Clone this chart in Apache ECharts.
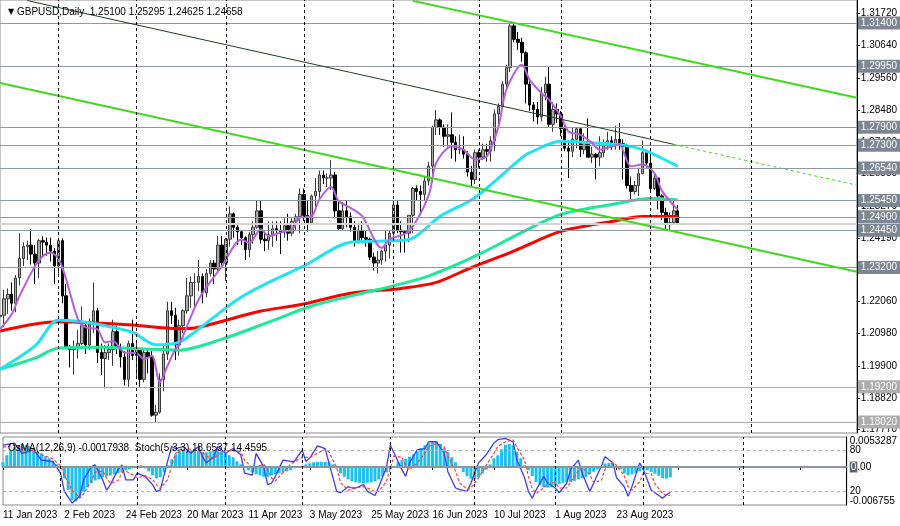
<!DOCTYPE html>
<html><head><meta charset="utf-8">
<script src="https://cdn.jsdelivr.net/npm/echarts/dist/echarts.min.js"></script>
<style>html,body{margin:0;padding:0;background:#fff}#c{width:900px;height:526px}</style>
</head><body><div id="c"></div>
<script>
// date, open, high, low, close
const candles = [
['2023-01-11',1.2155,1.2195,1.2125,1.2160],['2023-01-12',1.2160,1.2245,1.2120,1.2215],['2023-01-13',1.2215,1.2250,1.2165,1.2230],
['2023-01-16',1.2230,1.2270,1.2175,1.2200],['2023-01-17',1.2200,1.2295,1.2170,1.2285],['2023-01-18',1.2285,1.2435,1.2260,1.2350],
['2023-01-19',1.2350,1.2405,1.2325,1.2390],['2023-01-20',1.2390,1.2410,1.2345,1.2395],['2023-01-23',1.2395,1.2448,1.2330,1.2365],
['2023-01-24',1.2365,1.2395,1.2265,1.2335],['2023-01-25',1.2335,1.2415,1.2285,1.2410],['2023-01-26',1.2410,1.2425,1.2355,1.2405],
['2023-01-27',1.2405,1.2420,1.2360,1.2395],['2023-01-30',1.2395,1.2420,1.2340,1.2375],['2023-01-31',1.2375,1.2385,1.2265,1.2325],
['2023-02-01',1.2325,1.2420,1.2290,1.2410],['2023-02-02',1.2410,1.2418,1.2200,1.2225],['2023-02-03',1.2225,1.2265,1.2050,1.2050],
['2023-02-06',1.2050,1.2060,1.1985,1.2045],['2023-02-07',1.2045,1.2075,1.1961,1.2050],['2023-02-08',1.2050,1.2110,1.2015,1.2065],
['2023-02-09',1.2065,1.2190,1.2060,1.2125],['2023-02-10',1.2125,1.2135,1.2030,1.2060],['2023-02-13',1.2060,1.2150,1.2045,1.2140],
['2023-02-14',1.2140,1.2270,1.2100,1.2175],['2023-02-15',1.2175,1.2185,1.2000,1.2035],['2023-02-16',1.2035,1.2065,1.1960,1.2015],
['2023-02-17',1.2015,1.2060,1.1915,1.2035],['2023-02-20',1.2035,1.2065,1.2010,1.2045],['2023-02-21',1.2045,1.2145,1.1990,1.2105],
['2023-02-22',1.2105,1.2125,1.2030,1.2050],['2023-02-23',1.2050,1.2065,1.1985,1.2020],['2023-02-24',1.2020,1.2040,1.1925,1.1945],
['2023-02-27',1.1945,1.2075,1.1920,1.2065],['2023-02-28',1.2065,1.2145,1.2010,1.2025],['2023-03-01',1.2025,1.2075,1.1945,1.2045],
['2023-03-02',1.2045,1.2050,1.1920,1.1945],['2023-03-03',1.1945,1.2045,1.1935,1.2035],['2023-03-06',1.2035,1.2050,1.1965,1.2020],
['2023-03-07',1.2020,1.2040,1.1820,1.1825],['2023-03-08',1.1825,1.1860,1.1802,1.1835],['2023-03-09',1.1835,1.1965,1.1830,1.1945],
['2023-03-10',1.1945,1.2060,1.1905,1.2030],['2023-03-13',1.2030,1.2205,1.2010,1.2175],['2023-03-14',1.2175,1.2205,1.2130,1.2160],
['2023-03-15',1.2160,1.2185,1.2010,1.2060],['2023-03-16',1.2060,1.2145,1.2025,1.2125],['2023-03-17',1.2125,1.2180,1.2100,1.2175],
['2023-03-20',1.2175,1.2285,1.2165,1.2225],['2023-03-21',1.2225,1.2290,1.2185,1.2270],['2023-03-22',1.2270,1.2300,1.2190,1.2270],
['2023-03-23',1.2270,1.2345,1.2240,1.2290],['2023-03-24',1.2290,1.2300,1.2200,1.2235],['2023-03-27',1.2235,1.2315,1.2220,1.2300],
['2023-03-28',1.2300,1.2345,1.2290,1.2335],['2023-03-29',1.2335,1.2345,1.2265,1.2315],['2023-03-30',1.2315,1.2425,1.2300,1.2395],
['2023-03-31',1.2395,1.2425,1.2325,1.2335],['2023-04-03',1.2335,1.2420,1.2275,1.2415],['2023-04-04',1.2415,1.2525,1.2390,1.2500],
['2023-04-05',1.2500,1.2505,1.2420,1.2455],['2023-04-06',1.2455,1.2470,1.2395,1.2440],['2023-04-07',1.2440,1.2445,1.2395,1.2420],
['2023-04-10',1.2420,1.2425,1.2345,1.2380],['2023-04-11',1.2380,1.2440,1.2355,1.2430],['2023-04-12',1.2430,1.2475,1.2400,1.2455],
['2023-04-13',1.2455,1.2545,1.2450,1.2510],['2023-04-14',1.2510,1.2545,1.2400,1.2415],['2023-04-17',1.2415,1.2440,1.2375,1.2410],
['2023-04-18',1.2410,1.2475,1.2380,1.2430],['2023-04-19',1.2430,1.2475,1.2390,1.2450],['2023-04-20',1.2450,1.2475,1.2410,1.2445],
['2023-04-21',1.2445,1.2475,1.2365,1.2440],['2023-04-24',1.2440,1.2485,1.2420,1.2460],['2023-04-25',1.2460,1.2500,1.2410,1.2435],
['2023-04-26',1.2435,1.2485,1.2425,1.2475],['2023-04-27',1.2475,1.2500,1.2445,1.2490],['2023-04-28',1.2490,1.2585,1.2435,1.2565],
['2023-05-01',1.2565,1.2585,1.2475,1.2495],['2023-05-02',1.2495,1.2545,1.2440,1.2470],['2023-05-03',1.2470,1.2565,1.2465,1.2560],
['2023-05-04',1.2560,1.2620,1.2515,1.2575],['2023-05-05',1.2575,1.2645,1.2545,1.2630],['2023-05-08',1.2630,1.2645,1.2600,1.2620],
['2023-05-09',1.2620,1.2635,1.2590,1.2620],['2023-05-10',1.2620,1.2680,1.2580,1.2630],['2023-05-11',1.2630,1.2640,1.2485,1.2510],
['2023-05-12',1.2510,1.2545,1.2445,1.2450],['2023-05-15',1.2450,1.2540,1.2445,1.2510],['2023-05-16',1.2510,1.2545,1.2455,1.2490],
['2023-05-17',1.2490,1.2505,1.2440,1.2455],['2023-05-18',1.2455,1.2475,1.2390,1.2410],['2023-05-19',1.2410,1.2470,1.2400,1.2445],
['2023-05-22',1.2445,1.2475,1.2405,1.2420],['2023-05-23',1.2420,1.2445,1.2390,1.2415],['2023-05-24',1.2415,1.2420,1.2345,1.2355],
['2023-05-25',1.2355,1.2370,1.2310,1.2335],['2023-05-26',1.2335,1.2375,1.2300,1.2345],['2023-05-29',1.2345,1.2380,1.2330,1.2375],
['2023-05-30',1.2375,1.2445,1.2340,1.2395],['2023-05-31',1.2395,1.2445,1.2350,1.2435],['2023-06-01',1.2435,1.2545,1.2410,1.2530],
['2023-06-02',1.2530,1.2545,1.2435,1.2445],['2023-06-05',1.2445,1.2475,1.2370,1.2440],['2023-06-06',1.2440,1.2445,1.2370,1.2435],
['2023-06-07',1.2435,1.2495,1.2405,1.2495],['2023-06-08',1.2495,1.2590,1.2435,1.2585],['2023-06-09',1.2585,1.2595,1.2545,1.2575],
['2023-06-12',1.2575,1.2595,1.2495,1.2565],['2023-06-13',1.2565,1.2625,1.2545,1.2610],['2023-06-14',1.2610,1.2675,1.2595,1.2660],
['2023-06-15',1.2660,1.2795,1.2605,1.2790],['2023-06-16',1.2790,1.2848,1.2765,1.2815],['2023-06-19',1.2815,1.2820,1.2765,1.2790],
['2023-06-20',1.2790,1.2800,1.2725,1.2760],['2023-06-21',1.2760,1.2800,1.2725,1.2765],['2023-06-22',1.2765,1.2840,1.2685,1.2740],
['2023-06-23',1.2740,1.2760,1.2675,1.2715],['2023-06-26',1.2715,1.2765,1.2700,1.2715],['2023-06-27',1.2715,1.2760,1.2685,1.2700],
['2023-06-28',1.2700,1.2710,1.2625,1.2640],['2023-06-29',1.2640,1.2660,1.2590,1.2615],['2023-06-30',1.2615,1.2715,1.2600,1.2705],
['2023-07-03',1.2705,1.2715,1.2655,1.2690],['2023-07-04',1.2690,1.2735,1.2680,1.2715],['2023-07-05',1.2715,1.2735,1.2675,1.2710],
['2023-07-06',1.2710,1.2760,1.2675,1.2745],['2023-07-07',1.2745,1.2850,1.2710,1.2835],['2023-07-10',1.2835,1.2870,1.2795,1.2860],
['2023-07-11',1.2860,1.2945,1.2855,1.2935],['2023-07-12',1.2935,1.3000,1.2920,1.2990],['2023-07-13',1.2990,1.3140,1.2975,1.3130],
['2023-07-14',1.3130,1.3143,1.3075,1.3085],['2023-07-17',1.3085,1.3110,1.3050,1.3075],['2023-07-18',1.3075,1.3090,1.3010,1.3040],
['2023-07-19',1.3040,1.3045,1.2870,1.2935],['2023-07-20',1.2935,1.2945,1.2845,1.2865],['2023-07-21',1.2865,1.2875,1.2810,1.2850],
['2023-07-24',1.2850,1.2875,1.2800,1.2825],['2023-07-25',1.2825,1.2925,1.2810,1.2905],['2023-07-26',1.2905,1.2960,1.2880,1.2935],
['2023-07-27',1.2935,1.2995,1.2790,1.2800],['2023-07-28',1.2800,1.2875,1.2775,1.2850],['2023-07-31',1.2850,1.2870,1.2805,1.2835],
['2023-08-01',1.2835,1.2845,1.2760,1.2785],['2023-08-02',1.2785,1.2805,1.2710,1.2720],['2023-08-03',1.2720,1.2740,1.2620,1.2710],
['2023-08-04',1.2710,1.2790,1.2690,1.2750],['2023-08-07',1.2750,1.2790,1.2720,1.2785],['2023-08-08',1.2785,1.2790,1.2690,1.2715],
['2023-08-09',1.2715,1.2770,1.2700,1.2740],['2023-08-10',1.2740,1.2820,1.2690,1.2690],['2023-08-11',1.2690,1.2725,1.2670,1.2700],
['2023-08-14',1.2700,1.2705,1.2615,1.2690],['2023-08-15',1.2690,1.2760,1.2660,1.2705],['2023-08-16',1.2705,1.2750,1.2690,1.2730],
['2023-08-17',1.2730,1.2775,1.2715,1.2745],['2023-08-18',1.2745,1.2760,1.2715,1.2735],['2023-08-21',1.2735,1.2795,1.2715,1.2750],
['2023-08-22',1.2750,1.2805,1.2715,1.2735],['2023-08-23',1.2735,1.2750,1.2615,1.2725],['2023-08-24',1.2725,1.2735,1.2585,1.2595],
['2023-08-25',1.2595,1.2625,1.2548,1.2575],['2023-08-28',1.2575,1.2610,1.2565,1.2595],['2023-08-29',1.2595,1.2655,1.2560,1.2635],
['2023-08-30',1.2635,1.2746,1.2635,1.2705],['2023-08-31',1.2705,1.2715,1.2655,1.2670],['2023-09-01',1.2670,1.2710,1.2575,1.2585],
['2023-09-04',1.2585,1.2640,1.2580,1.2620],['2023-09-05',1.2620,1.2620,1.2515,1.2560],['2023-09-06',1.2560,1.2565,1.2480,1.2505],
['2023-09-07',1.2505,1.2520,1.2446,1.2470],['2023-09-08',1.2470,1.2505,1.2445,1.2470],['2023-09-11',1.2470,1.2545,1.2465,1.2510],
['2023-09-12',1.25100,1.25295,1.24625,1.24658]
];

// moving averages: [bar index, value]
const maFast = [[0,1.2113],[3,1.2163],[5,1.2224],[9,1.2325],[11,1.2358],[13,1.2370],[15,1.2350],[17,1.2280],[20,1.2147],[22,1.2119],[25,1.2113],[27,1.2069],[29,1.2074],[32,1.2035],[35,1.2033],[37,1.2013],[39,1.2024],[41,1.1935],[43,1.1990],[45,1.2046],[46,1.2060],[51,1.2213],[57,1.2325],[62,1.2414],[64,1.2403],[67,1.2448],[69,1.2425],[72,1.2437],[75,1.2448],[77,1.2487],[80,1.2492],[82,1.2548],[85,1.2590],[87,1.2542],[90,1.2520],[93,1.2492],[98,1.2386],[100,1.2414],[105,1.2442],[110,1.2559],[112,1.2671],[116,1.2726],[119,1.2715],[122,1.2682],[125,1.2693],[128,1.2793],[130,1.2916],[134,1.3000],[136,1.2949],[139,1.2905],[141,1.2882],[144,1.2827],[146,1.2776],[149,1.2765],[152,1.2738],[154,1.2715],[157,1.2726],[159,1.2732],[162,1.2659],[165,1.2665],[168,1.2637],[170,1.2576],[174,1.2514]];
const maMid = [[0,1.1979],[9,1.2057],[15,1.2144],[21,1.2138],[26,1.2127],[34,1.2103],[40,1.2061],[46,1.2070],[52,1.2124],[61,1.2213],[69,1.2270],[78,1.2325],[90,1.2405],[96,1.2408],[105,1.2414],[113,1.2492],[122,1.2555],[134,1.2688],[136,1.2705],[144,1.2743],[152,1.2738],[159,1.2732],[165,1.2715],[174,1.2659]];
const maSlow = [[0,1.1979],[9,1.2016],[15,1.2050],[26,1.2053],[38,1.2046],[46,1.2043],[57,1.2080],[69,1.2137],[80,1.2191],[90,1.2224],[109,1.2287],[122,1.2358],[134,1.2438],[144,1.2498],[157,1.2531],[167,1.2551],[174,1.2546]];
const maLong = [[0,1.2107],[15,1.2138],[26,1.2133],[34,1.2127],[46,1.2115],[51,1.2120],[67,1.2174],[77,1.2195],[90,1.2234],[103,1.2250],[112,1.2270],[121,1.2320],[131,1.2370],[134,1.2387],[144,1.2441],[157,1.2474],[165,1.2491],[174,1.2491]];

const osma = [0.00084,0.00208,0.00297,0.00351,0.00386,0.00404,0.00386,0.00368,0.00333,0.00279,
0.00244,0.00190,0.00155,0.00101,0.00048,-0.00005,-0.00200,-0.00410,-0.00590,-0.00610,
-0.00540,-0.00450,-0.00360,-0.00290,-0.00240,-0.00220,-0.00180,-0.00165,-0.00150,-0.00130,
-0.00110,-0.00094,-0.00059,-0.00040,-0.00023,0.00012,0.00030,-0.00023,-0.00077,-0.00150,
-0.00200,-0.00180,-0.00094,0.00030,0.00137,0.00226,0.00279,0.00315,0.00297,0.00297,
0.00279,0.00279,0.00260,0.00260,0.00279,0.00297,0.00297,0.00279,0.00244,0.00208,
0.00173,0.00101,0.00048,-0.00005,-0.00059,-0.00094,-0.00130,-0.00150,-0.00174,-0.00174,
-0.00150,-0.00130,-0.00110,-0.00094,-0.00077,-0.00059,-0.00023,-0.00005,0.00012,0.00048,
0.00066,0.00084,0.00093,0.00093,0.00093,0.00084,0.00048,-0.00023,-0.00110,-0.00174,
-0.00220,-0.00255,-0.00272,-0.00280,-0.00290,-0.00280,-0.00272,-0.00255,-0.00220,-0.00165,
-0.00094,-0.00040,0.00012,0.00084,0.00119,0.00146,0.00182,0.00226,0.00279,0.00333,
0.00386,0.00422,0.00440,0.00457,0.00413,0.00333,0.00262,0.00173,0.00084,0.00012,
-0.00089,-0.00165,-0.00210,-0.00219,-0.00182,-0.00112,-0.00050,0.00048,0.00155,0.00208,
0.00315,0.00395,0.00413,0.00386,0.00270,0.00155,0.00030,-0.00059,-0.00165,-0.00267,
-0.00326,-0.00361,-0.00367,-0.00356,-0.00335,-0.00308,-0.00281,-0.00267,-0.00267,-0.00246,
-0.00219,-0.00201,-0.00178,-0.00130,-0.00085,-0.00041,0.00004,0.00061,0.00071,0.00057,
0.00021,-0.00041,-0.00117,-0.00148,-0.00130,-0.00103,-0.00077,-0.00046,-0.00059,-0.00089,
-0.00121,-0.00157,-0.00201,-0.00206,-0.00179];

const stochMain = [[0,88],[3,91],[5,76],[8,81],[10,66],[13,64],[15,47],[16,20],[18,3],[20,13],[21,37],[23,56],[24,59],[26,37],[27,22],[28,30],[30,52],[31,59],[32,37],[34,37],[35,47],[37,42],[39,30],[40,20],[41,22],[43,66],[44,86],[45,83],[47,86],[49,76],[51,86],[52,71],[53,62],[55,71],[56,86],[58,76],[60,83],[62,74],[63,47],[65,44],[66,76],[68,56],[69,30],[70,32],[71,42],[73,66],[75,64],[76,64],[78,81],[79,64],[80,69],[82,87],[84,83],[85,62],[87,20],[88,18],[90,27],[91,25],[92,25],[94,30],[95,20],[97,14],[98,27],[100,56],[101,88],[102,76],[104,52],[105,42],[106,62],[108,81],[110,83],[111,93],[113,93],[115,77],[116,49],[118,25],[119,23],[121,20],[122,32],[124,62],[126,74],[128,91],[129,96],[131,98],[133,93],[134,66],[136,40],[137,20],[138,10],[139,22],[141,42],[142,32],[144,25],[145,18],[147,32],[148,52],[150,66],[151,47],[153,20],[154,32],[156,57],[157,71],[159,62],[160,40],[162,27],[163,13],[164,27],[166,62],[167,52],[169,22],[170,18],[172,10],[173,15],[174,18.6537]];
const stochSignal = [[0,85],[3,88],[5,84],[8,80],[10,74],[13,68],[15,58],[16,44],[18,22],[20,10],[21,16],[23,35],[24,48],[26,50],[27,40],[28,32],[30,36],[31,47],[32,50],[34,44],[35,40],[37,43],[39,38],[40,30],[41,24],[43,38],[44,58],[45,76],[47,84],[49,82],[51,80],[52,78],[53,72],[55,68],[56,74],[58,80],[60,80],[62,78],[63,66],[65,55],[66,56],[68,60],[69,52],[70,40],[71,35],[73,48],[75,60],[76,64],[78,70],[79,70],[80,70],[82,76],[84,82],[85,78],[87,55],[88,33],[90,22],[91,23],[92,25],[94,27],[95,25],[97,20],[98,20],[100,35],[101,55],[102,72],[104,70],[105,58],[106,52],[108,62],[110,76],[111,86],[113,90],[115,86],[116,72],[118,50],[119,33],[121,23],[122,25],[124,40],[126,58],[128,76],[129,86],[131,93],[133,96],[134,85],[136,66],[137,42],[138,24],[139,17],[141,25],[142,32],[144,33],[145,25],[147,25],[148,34],[150,50],[151,55],[153,45],[154,33],[156,36],[157,53],[159,63],[160,58],[162,43],[163,27],[164,22],[166,34],[167,47],[169,46],[170,31],[172,17],[173,14],[174,14.4595]];

const levels = [1.31400,1.29950,1.27900,1.27300,1.26540,1.25450,1.24900,1.24450,1.23200,1.19200,1.18020];
const fadedLevels = [1.19200,1.18020];
const bidPrice = 1.24658;
const priceTicks = [1.31720,1.30640,1.29560,1.28480,1.27400,1.26350,1.25270,1.24190,1.23110,1.22060,1.20980,1.19900,1.18820,1.17770];
const osmaTicks = [0.0053287,0,-0.006755];
const stochTicks = [80,20];
// trend lines: [startIndex, startPrice, endIndex, endPrice]
const channelTop = [106,1.3214,220,1.2889];
const channelMid = [0,1.2939,220,1.2306];
const resistance = [7,1.3215,173,1.2733];
const resistanceExt = [173,1.2733,220,1.2596];
const monthStarts = [15,35,58,78,101,123,144,167,193];
const futureSlots = 46;
const titleText = 'GBPUSD,Daily  1.25100 1.25295 1.24625 1.24658';
const indText = 'OsMA(12,26,9) -0.0017938  Stoch(5,3,3) 18.6537 14.4595';

const MON = ['Jan','Feb','Mar','Apr','May','Jun','Jul','Aug','Sep','Oct','Nov','Dec'];
const cats = candles.map(r => r[0]);
for (let i = 1; i <= futureSlots; i++) cats.push('f' + i);
const ohlc = candles.map(r => [r[1], r[4], r[3], r[2]]);
const FONT = 'Liberation Sans';

const chart = echarts.init(document.getElementById('c'), null, {renderer: 'canvas'});

const levelLines = levels.map(v => {
  const faded = fadedLevels.includes(v);
  return {
    yAxis: v,
    lineStyle: {color: faded ? '#a9a9a9' : '#8e97a2', width: 1, type: 'solid'},
    label: {show: true, position: 'end', distance: 1, formatter: v.toFixed(5),
      backgroundColor: faded ? '#adadad' : '#7d8794', color: '#ffffff',
      padding: [2, 3, 1, 3], fontSize: 10, fontFamily: FONT}
  };
});
levelLines.push({yAxis: bidPrice, lineStyle: {color: '#d2d2d2', width: 2, type: 'solid'}, label: {show: false}});

function seg(t, style) {
  return [{coord: [cats[t[0]], t[1]], lineStyle: style, label: {show: false}},
          {coord: [cats[t[2]], t[3]]}];
}
const trendLines = [
  seg(channelTop, {color: '#3ddc1a', width: 2, type: 'solid'}),
  seg(channelMid, {color: '#3ddc1a', width: 2, type: 'solid'}),
  seg(resistance, {color: '#233d23', width: 1, type: 'solid'}),
  seg(resistanceExt, {color: '#3ddc1a', width: 1, type: [3, 3]})
];
const sepLines = monthStarts.map(i => ({xAxis: cats[i], lineStyle: {color: '#000', width: 1, type: [3, 3]}, label: {show: false}}));

const option = {
  animation: false,
  backgroundColor: '#ffffff',
  title: [
    {text: '{t|▼} ' + titleText, left: 3, top: 2,
     textStyle: {fontSize: 10, fontWeight: 'normal', color: '#000', fontFamily: FONT,
       rich: {t: {fontSize: 8, color: '#000', fontFamily: 'DejaVu Sans'}}}},
    {text: indText, left: 3, top: 438,
     textStyle: {fontSize: 10, fontWeight: 'normal', color: '#000', fontFamily: FONT}}
  ],
  grid: [
    {left: 0, right: 43, top: 0, height: 433, show: true, borderColor: '#8a8a8a', borderWidth: 1, containLabel: false},
    {left: 0, right: 43, top: 437, height: 68, show: true, borderColor: '#8a8a8a', borderWidth: 1, containLabel: false}
  ],
  xAxis: [
    {type: 'category', gridIndex: 0, data: cats, boundaryGap: false,
     axisLine: {show: false}, axisTick: {show: false}, axisLabel: {show: false}, splitLine: {show: false}},
    {type: 'category', gridIndex: 1, data: cats, boundaryGap: false,
     axisLine: {show: true, lineStyle: {color: '#000'}},
     axisTick: {show: true, interval: 15, length: 3, lineStyle: {color: '#000'}},
     axisLabel: {show: true, interval: 15, align: 'left', margin: 5, fontSize: 10, color: '#000', fontFamily: FONT,
       formatter: v => {
         if (!/^\d{4}-\d{2}-\d{2}$/.test(v)) return '';
         const p = v.split('-');
         return (+p[2]) + ' ' + MON[+p[1] - 1] + ' ' + p[0];
       }},
     splitLine: {show: false}}
  ],
  yAxis: [
    {type: 'value', gridIndex: 0, position: 'right', min: 1.17652, max: 1.32169, scale: true,
     axisLine: {show: true, lineStyle: {color: '#000'}},
     axisTick: {show: true, length: 3, customValues: priceTicks, lineStyle: {color: '#000'}},
     axisLabel: {show: true, customValues: priceTicks, formatter: v => v.toFixed(5), fontSize: 10, color: '#000', margin: 4, fontFamily: FONT},
     splitLine: {show: false}},
    {type: 'value', gridIndex: 1, position: 'right', min: -0.006755, max: 0.0053287,
     axisLine: {show: true, lineStyle: {color: '#000'}},
     axisTick: {show: false},
     axisLabel: {show: true, customValues: osmaTicks, margin: 3, fontSize: 10, color: '#000', fontFamily: FONT,
       formatter: v => v > 0.001 ? '{top|' + v.toFixed(7) + '}' : (v < -0.001 ? '{bot|' + v.toFixed(6) + '}' : '{z|0}{n|.00}'),
       rich: {
         top: {fontSize: 10, color: '#000', fontFamily: FONT, padding: [9, 0, 0, 0]},
         bot: {fontSize: 10, color: '#000', fontFamily: FONT, padding: [0, 0, 7, 0]},
         z: {fontSize: 10, color: '#fff', backgroundColor: '#5d6670', fontFamily: FONT, padding: [1, 1, 0, 1]},
         n: {fontSize: 10, color: '#000', fontFamily: FONT}
       }},
     splitLine: {show: false}},
    {type: 'value', gridIndex: 1, position: 'right', min: 0, max: 100,
     axisLine: {show: false}, axisTick: {show: false},
     axisLabel: {show: true, customValues: stochTicks, margin: 3, fontSize: 10, color: '#000', fontFamily: FONT},
     splitLine: {show: false}}
  ],
  series: [
    {type: 'candlestick', name: 'GBPUSD', xAxisIndex: 0, yAxisIndex: 0, data: ohlc, barWidth: 3,
     itemStyle: {color: '#a8a8a8', color0: '#000000', borderColor: '#3a3a3a', borderColor0: '#000000', borderWidth: 1},
     markLine: {silent: true, symbol: ['none', 'none'], animation: false, precision: 7,
       data: levelLines.concat(trendLines).concat(sepLines)}},
    {type: 'line', name: 'MA long', xAxisIndex: 0, yAxisIndex: 0, data: maLong, showSymbol: false, smooth: 0.3,
     lineStyle: {color: '#ff0000', width: 3}},
    {type: 'line', name: 'MA slow', xAxisIndex: 0, yAxisIndex: 0, data: maSlow, showSymbol: false, smooth: 0.3,
     lineStyle: {color: '#1ee89a', width: 3}},
    {type: 'line', name: 'MA mid', xAxisIndex: 0, yAxisIndex: 0, data: maMid, showSymbol: false, smooth: 0.3,
     lineStyle: {color: '#22e3f2', width: 3}},
    {type: 'line', name: 'MA fast', xAxisIndex: 0, yAxisIndex: 0, data: maFast, showSymbol: false, smooth: 0.3,
     lineStyle: {color: '#b55ee0', width: 2}},
    {type: 'bar', name: 'OsMA', xAxisIndex: 1, yAxisIndex: 1, data: osma, barWidth: 3,
     itemStyle: {color: '#1cc1ef'},
     markLine: {silent: true, symbol: ['none', 'none'], animation: false, precision: 7,
       data: [{yAxis: 0, lineStyle: {color: '#8c949c', width: 2, type: 'solid'}, label: {show: false}}].concat(sepLines)}},
    {type: 'line', name: 'Stoch', xAxisIndex: 1, yAxisIndex: 2, data: stochMain, showSymbol: false,
     lineStyle: {color: '#3b3bff', width: 1.3},
     markLine: {silent: true, symbol: ['none', 'none'], animation: false, precision: 4,
       data: stochTicks.map(v => ({yAxis: v, lineStyle: {color: '#b4b4b4', width: 1, type: [3, 3]}, label: {show: false}}))}},
    {type: 'line', name: 'Signal', xAxisIndex: 1, yAxisIndex: 2, data: stochSignal, showSymbol: false,
     lineStyle: {color: '#ff3b3b', width: 1.2, type: [3, 2]}}
  ]
};
chart.setOption(option);
</script>
</body></html>
